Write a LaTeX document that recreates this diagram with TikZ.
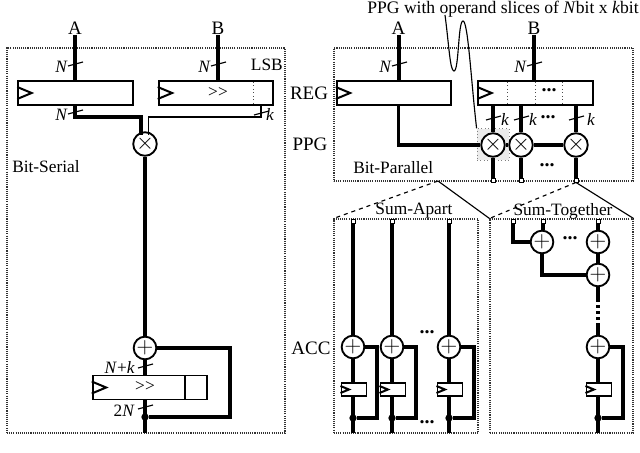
\documentclass[tikz,border=0pt]{standalone}
\usepackage{fontspec}
\setmainfont{Liberation Serif}
\usepackage{tikz}
\usetikzlibrary{positioning}
\usetikzlibrary{calc}
\tikzset{
    bus/.style={line width=3pt},
    wire/.style={line width=2.5pt},
    fine/.style={line width=0.85pt},
    divider/.style={draw=black!70, dotted, line width=0.6pt},
    panel/.style={draw=black!80, dash pattern=on 0.8pt off 0.8pt, line width=0.8pt},
    bigreg/.style={draw, fill=white, line width=1.4pt, minimum width=86pt, minimum height=18pt, inner sep=0pt},
    smallreg/.style={draw, fill=white, line width=1.2pt, minimum width=19pt, minimum height=10pt, inner sep=0pt},
    op/.style={draw, circle, fill=white, line width=1.4pt, minimum size=17pt, inner sep=0pt, font=\fontsize{18}{18}\selectfont},
    tap/.style={draw, fill=white, line width=0.7pt, minimum size=3pt, inner sep=0pt},
    joint/.style={circle, fill=black, minimum size=5.5pt, inner sep=0pt},
    txt/.style={inner sep=0pt, font=\fontsize{13}{15}\selectfont},
    bigtxt/.style={inner sep=0pt, font=\fontsize{14.25}{16}\selectfont},
    dots/.style={inner sep=0pt, font=\fontsize{15}{15}\selectfont\bfseries},
}
\newcommand{\clk}[2]{\draw[line width=1.5pt] ($(#1.west)+(0,-#2)$) -- ($(#1.west)+(#2*2.4,0)$) -- ($(#1.west)+(0,#2)$);}
\newcommand{\busmark}[2]{\draw[fine] (#1-7,#2+2) -- (#1+8,#2-2);}
\begin{document}
\begin{tikzpicture}[x=0.75pt, y=-0.75pt]
    \useasboundingbox (0,0) rectangle (640,453);

    %panels
    \node[panel, minimum width=208.5pt, minimum height=288.75pt, inner sep=0pt] at (146,240.5) (serial) {};
    \node[panel, minimum width=224.25pt, minimum height=99.75pt, inner sep=0pt] at (483.5,114.5) (parallel) {};
    \node[panel, minimum width=108pt, minimum height=160.5pt, inner sep=0pt] at (406,326) (apart) {};
    \node[panel, minimum width=107.25pt, minimum height=160.5pt, inner sep=0pt] at (561.5,326) (together) {};

    %side labels
    \node[bigtxt] at (309,93) (reg) {REG};
    \node[bigtxt] at (310,144) (ppg) {PPG};
    \node[bigtxt] at (311,348) (acc) {ACC};
    \node[txt, anchor=west] at (12,167) (serialtxt) {Bit-Serial};
    \node[txt, anchor=west] at (353,168) (paralleltxt) {Bit-Parallel};
    \node[txt] at (414,211) (aparttxt) {Sum-Apart};
    \node[txt] at (563,211) (togethertxt) {Sum-Together};
    \node[inner sep=0pt, font=\fontsize{13.2}{15}\selectfont, anchor=east] at (639,9) (callout) {PPG with operand slices of \textit{N}bit x \textit{k}bit};

    %bit-serial
    \node[bigtxt] at (75,28) (sa) {A};
    \node[bigtxt] at (218,28) (sb) {B};
    \node[bigreg] at (75.5,93) (sra) {};
    \node[bigreg] at (216,93) (srb) {};
    \node[op] at (145,144) (smul) {$\times$};
    \node[op] at (145,348) (sadd) {$+$};
    \node[bigreg] at (150,387.5) (sacc) {};
    \node[txt] at (218,93) {>{}>};
    \node[txt] at (145,387) {>{}>};
    \node[txt, anchor=east] at (283,65) (lsb) {LSB};
    \draw[divider] (253,82) -- (253,104);
    \draw[line width=0.9pt] (185,376) -- (185,399);
    \clk{sra}{6}
    \clk{srb}{6}
    \clk{sacc}{6}
    \coordinate (saout) at (75,117);
    \coordinate (sbout) at (261,117);
    \coordinate (send) at (145,433);
    \node[joint] at (145,417) (sjoint) {};
    \draw[bus] (sa.south) -- (sa.south |- sra.north);
    \draw[bus] (sb.south) -- (sb.south |- srb.north);
    \draw[bus] (saout |- sra.south) -- (saout) -| (141,135);
    \draw[fine] (sbout |- srb.south) -- (sbout) -| (148.5,135);
    \draw[wire] (smul) -- (sadd);
    \draw[wire] (sadd.south) -- (sadd |- sacc.north);
    \draw[wire] (sadd |- sacc.south) -- (send);
    \draw[wire] (sadd.east) -| (230,417) -- (sjoint);
    \busmark{75}{64}
    \busmark{75}{112}
    \busmark{218}{64}
    \busmark{261}{113}
    \busmark{145}{366}
    \busmark{145}{407}
    \node[txt, anchor=east] at (68,67) {\textit{N}};
    \node[txt, anchor=east] at (68,115) {\textit{N}};
    \node[txt, anchor=east] at (211,67) {\textit{N}};
    \node[txt] at (270,114) {\textit{k}};
    \node[txt, anchor=east] at (135,367) {\textit{N}+\textit{k}};
    \node[txt, anchor=east] at (135,411) {2\textit{N}};

    %bit-parallel
    \node[fill=black!8, draw=black!50, dotted, line width=0.6pt, minimum width=24pt, minimum height=23.5pt] at (493,144.5) (slice) {};
    \node[bigtxt] at (398.5,28) (pa) {A};
    \node[bigtxt] at (534,28) (pb) {B};
    \node[bigreg] at (394,93) (pra) {};
    \node[bigreg] at (535.5,93) (prb) {};
    \draw[divider] (507,82) -- (507,104);
    \draw[divider] (535,82) -- (535,104);
    \draw[divider] (562,82) -- (562,104);
    \clk{pra}{6}
    \clk{prb}{6}
    \node[dots] at (549,90) {...};
    \node[op] at (493,145) (pm1) {$\times$};
    \node[op] at (521,145) (pm2) {$\times$};
    \node[op] at (576,145) (pm3) {$\times$};
    \node[tap] at (493,180) (pt1) {};
    \node[tap] at (521,180) (pt2) {};
    \node[tap] at (576,180) (pt3) {};
    \draw[bus] (pa.south) -- (pa.south |- pra.north);
    \draw[bus] (pb.south) -- (pb.south |- prb.north);
    \draw[wire] (pa |- pra.south) |- (pm1.west);
    \draw[wire] (pm1) -- (pm2);
    \draw[wire] (pm2) -- (pm3);
    \foreach \n in {1,2,3} {
        \draw[wire] (pm\n |- prb.south) -- (pm\n.north);
        \draw[wire] (pm\n.south) -- (pt\n.north);
    }
    \busmark{399}{64}
    \busmark{534}{64}
    \busmark{493}{118}
    \busmark{521}{118}
    \busmark{576}{118}
    \node[txt, anchor=east] at (392,67) {\textit{N}};
    \node[txt, anchor=east] at (527,67) {\textit{N}};
    \node[txt] at (505,119) {\textit{k}};
    \node[txt] at (533,119) {\textit{k}};
    \node[txt] at (591,119) {\textit{k}};
    \node[dots] at (548,117) {...};
    \node[dots] at (547,165) {...};
    %callout
    \coordinate (calloutstart) at (445,15);
    \draw[fine] (calloutstart) .. controls (449,45) and (450,71) .. (454,71) .. controls (459,71) and (458,21) .. (463,21) .. controls (468,21) and (471,80) .. (slice.north west);

    %zoom lines
    \coordinate (pfrom) at (438,181);
    \draw[fine, dashed] (pfrom) -- (apart.north west);
    \draw[fine] (pfrom) -- (together.north west);
    \draw[fine, dashed] (pt3.south) -- (together.north west);
    \draw[fine] (pt3.south) -- (together.north east);

    %sum-apart
    \foreach \x/\fb/\n in {353/377/1, 392/416/2, 449/474/3} {
        \node[tap] at (\x,221) (at\n) {};
        \node[op] at (\x,347) (aa\n) {$+$};
        \node[smallreg] at (\x+1,389.5) (ar\n) {};
        \node[joint] at (\x,418) (aj\n) {};
        \coordinate (ae\n) at (\x,433);
        \coordinate (ac\n) at (\fb,418);
        \draw[wire] (at\n.south) -- (aa\n.north);
        \draw[wire] (aa\n.south) -- (aa\n |- ar\n.north);
        \draw[wire] (aa\n |- ar\n.south) -- (ae\n);
        \draw[wire] (aa\n.east) -| (ac\n) -- (aj\n);
        \clk{ar\n}{3.5}
    }
    \node[dots] at (427,332) {...};
    \node[dots] at (427,422) {...};

    %sum-together
    \node[tap] at (513,221) (tt1) {};
    \node[tap] at (543,221) (tt2) {};
    \node[tap] at (598,221) (tt3) {};
    \node[op] at (542,242) (ta1) {$+$};
    \node[op] at (598,242) (ta2) {$+$};
    \node[op] at (598,275) (ta3) {$+$};
    \node[op] at (598,347) (ta4) {$+$};
    \node[smallreg] at (599,389.5) (tr) {};
    \node[joint] at (598,418) (tj) {};
    \coordinate (te) at (598,433);
    \coordinate (tc) at (623,418);
    \coordinate (tgap1) at (598,299);
    \coordinate (tgap2) at (598,323);
    \draw[wire] (tt1.south) |- (ta1.west);
    \draw[wire] (tt2.south) -- (tt2 |- ta1.north);
    \draw[wire] (tt3.south) -- (ta2.north);
    \draw[wire] (ta1.south) |- (ta3.west);
    \draw[wire] (ta2.south) -- (ta3.north);
    \draw[wire] (ta3.south) -- (tgap1);
    \draw[wire, dotted] (tgap1) -- (tgap2);
    \draw[wire] (tgap2) -- (ta4.north);
    \draw[wire] (ta4.south) -- (ta4 |- tr.north);
    \draw[wire] (ta4 |- tr.south) -- (te);
    \draw[wire] (ta4.east) -| (tc) -- (tj);
    \clk{tr}{3.5}
    \node[dots] at (570,238) {...};

\end{tikzpicture}
\end{document}
